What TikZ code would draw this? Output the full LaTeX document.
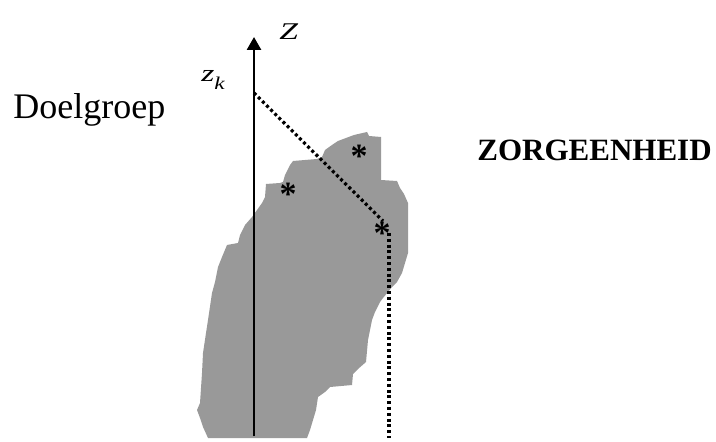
\documentclass[tikz,border=0pt]{standalone}
\usepackage{fontspec}
\setmainfont{Liberation Serif}
\usetikzlibrary{arrows.meta}
\definecolor{blobgray}{RGB}{153,153,153}
\begin{document}
\begin{tikzpicture}[x=0.5pt,y=-0.5pt]
        \tikzset{axis_line/.style = {-{Triangle[width=7pt,length=6.5pt]},line width=1.35pt,color=black}}
        \tikzset{dot_line/.style = {line width=1.6pt,dash pattern=on 1.5pt off 1.4pt,color=black}}
        \tikzset{star/.style = {inner sep=0pt,font=\fontsize{17pt}{17pt}\selectfont\bfseries}}
        \tikzset{txt/.style = {inner sep=0pt,anchor=base west}}
        \tikzset{axis_txt/.style = {txt,font=\fontsize{12pt}{12pt}\selectfont\itshape}}
        \useasboundingbox (0,0) rectangle (716,442);

        % zorgeenheid (grijs gebied)
        \fill[blobgray] (354,135) -- (367,132) -- (369,136) -- (381,137) -- (381,180) -- (397,181) -- (400,188) -- (404,194) -- (408,203) -- (408,253) -- (405,263) -- (402,273) -- (397,282) -- (392,287) -- (388,292) -- (383,298) -- (380,302) -- (375,312) -- (372,320) -- (370,330) -- (368,340) -- (366,362) -- (358,369) -- (353,374) -- (352,385) -- (330,387) -- (325,392) -- (318,397) -- (316,410) -- (310,430) -- (307,438) -- (208,438) -- (203,427) -- (200,418) -- (197,410) -- (200,403) -- (202,373) -- (203,353) -- (206,333) -- (208,320) -- (212,293) -- (215,282) -- (218,267) -- (222,257) -- (227,245) -- (238,243) -- (240,235) -- (245,225) -- (252,217) -- (257,210) -- (262,203) -- (265,197) -- (266,184) -- (280,183) -- (283,182) -- (285,175) -- (290,165) -- (293,161) -- (317,159) -- (322,157) -- (325,150) -- (332,145) -- (338,141) -- cycle;

        \coordinate (origin) at (254,436); \coordinate (ztop) at (254,37); \draw[axis_line] (origin) -- (ztop);
        \node[axis_txt] (zlabel) at (279,40) {\scalebox{1.4}[1]{Z}};
        \node[axis_txt] (zk) at (201,82) {\scalebox{1.4}[1]{z}\raisebox{-0.3em}{\fontsize{9pt}{9pt}\selectfont\scalebox{1.3}[1]{k}}};

        \node[star] (s1) at (359,156) {*}; \node[star] (s2) at (288,194) {*}; \node[star] (s3) at (382,233) {*};

        \coordinate (zkpt) at (254,93); \coordinate (bend) at (383,221); \coordinate (bend2) at (389,233); \coordinate (foot) at (389,438);
        \draw[dot_line] (zkpt) -- (bend); \draw[dot_line] (bend2) -- (foot);

        \node[txt,font=\fontsize{18pt}{18pt}\selectfont] (doel) at (13,119) {Doelgroep};
        \node[txt,font=\fontsize{15.5pt}{15.5pt}\selectfont\bfseries] (zorg) at (477,161) {ZORGEENHEID};
    \end{tikzpicture}
\end{document}
